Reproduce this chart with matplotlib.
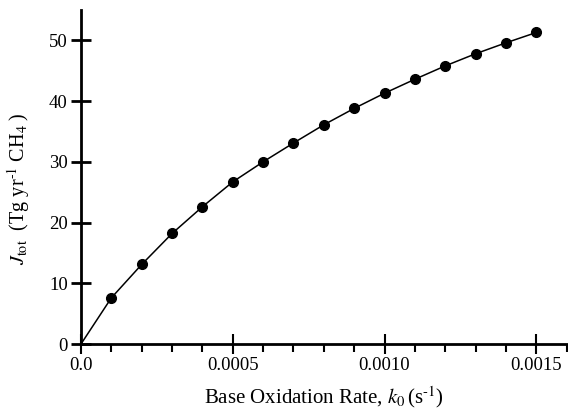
import matplotlib
matplotlib.use('Agg')
import matplotlib.pyplot as plt
from matplotlib.ticker import MultipleLocator, FixedLocator

plt.rcParams['font.family'] = 'Liberation Serif'
plt.rcParams['mathtext.fontset'] = 'stix'

# base oxidation rate k0 (s^-1) and total oxidation J_tot (Tg/yr CH4)
k0 = [0.0001, 0.0002, 0.0003, 0.0004, 0.0005, 0.0006, 0.0007, 0.0008,
      0.0009, 0.0010, 0.0011, 0.0012, 0.0013, 0.0014, 0.0015]
jtot = [7.6, 13.1, 18.2, 22.6, 26.7, 30.0, 33.1, 36.1,
        38.8, 41.3, 43.6, 45.8, 47.8, 49.6, 51.3]

fig = plt.figure(figsize=(5.68, 4.18), dpi=100)
ax = fig.add_axes([0.1426, 0.177, 0.855, 0.799])

# curve passes through origin
ax.plot([0.0] + k0, [0.0] + jtot, color='black', lw=1.1)
ax.plot(k0, jtot, 'o', color='black', ms=7)

ax.set_xlim(0, 0.0016)
ax.set_ylim(0, 55)
ax.xaxis.set_major_locator(FixedLocator([0.0, 0.0005, 0.0010, 0.0015]))
ax.xaxis.set_minor_locator(MultipleLocator(0.0001))
ax.set_xticklabels(['0.0', '0.0005', '0.0010', '0.0015'])
ax.yaxis.set_major_locator(MultipleLocator(10))

for s in ['top', 'right']:
    ax.spines[s].set_visible(False)
for s in ['left', 'bottom']:
    ax.spines[s].set_linewidth(2)

ax.tick_params(axis='x', which='major', direction='inout', length=14, width=1.5,
               labelsize=13.5, pad=2)
ax.tick_params(axis='x', which='minor', direction='out', length=6, width=1.5)
ax.tick_params(axis='y', which='major', direction='inout', length=15, width=2,
               labelsize=13.5, pad=2)

ax.set_xlabel(r'Base Oxidation Rate, $k_0\,$(s$^{\text{-1}}$)', fontsize=15, labelpad=8)
ax.set_ylabel(r'$J_{\mathrm{tot}}$  (Tg yr$^{\text{-1}}$ CH$_4$ )', fontsize=14.5)
ax.yaxis.set_label_coords(-0.10, 0.464)

plt.savefig('out.png', dpi=100)
